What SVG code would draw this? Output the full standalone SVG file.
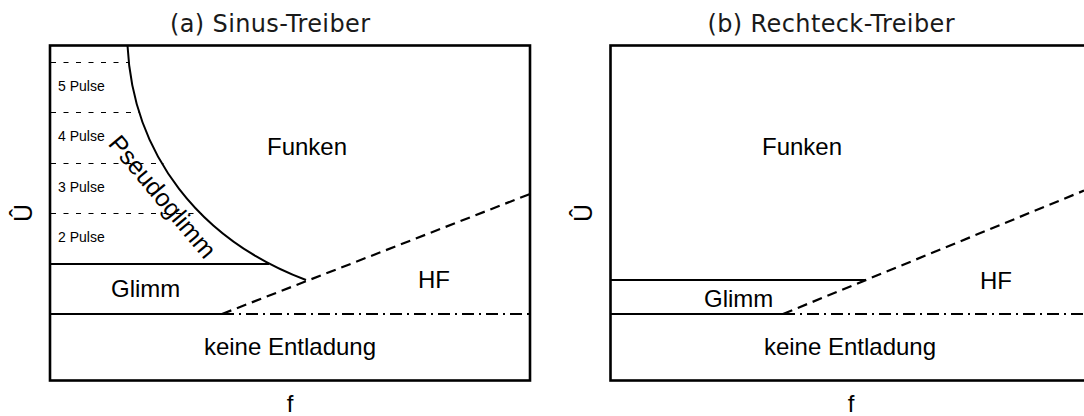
<svg xmlns="http://www.w3.org/2000/svg" width="1084" height="416" viewBox="0 0 1084 416">
<style>
.box{fill:none;stroke:#000;stroke-width:2.6}
.ln{fill:none;stroke:#000;stroke-width:2}
.dsh{fill:none;stroke:#000;stroke-width:2.2;stroke-dasharray:10 6}
.dd{fill:none;stroke:#000;stroke-width:2;stroke-dasharray:12 5 2 5}
.sd{fill:none;stroke:#000;stroke-width:1.2;stroke-dasharray:5 7.5}
.t{font-family:"Liberation Sans",Arial,sans-serif;font-size:24px;fill:#000}
.s{font-family:"Liberation Sans",Arial,sans-serif;font-size:14px;fill:#000}
.ti{font-family:"DejaVu Sans",sans-serif;font-size:24px;fill:#1a1a1a}
</style>
<rect width="1084" height="416" fill="#fff"/>
<g id="panel-a">
  <text class="ti" x="270" y="32" text-anchor="middle" textLength="200" lengthAdjust="spacing">(a) Sinus-Treiber</text>
  <rect class="box" x="50" y="45.5" width="480" height="335"/>
  <text class="t" transform="translate(32,213) rotate(-90)" text-anchor="middle" style="font-size:25px">Û</text>
  <text class="t" x="290" y="412" text-anchor="middle">f</text>
</g>
<g id="panel-b">
  <text class="ti" x="831" y="32" text-anchor="middle" textLength="247" lengthAdjust="spacing">(b) Rechteck-Treiber</text>
  <rect class="box" x="610.5" y="45.5" width="480" height="335"/>
  <text class="t" transform="translate(592,213) rotate(-90)" text-anchor="middle" style="font-size:25px">Û</text>
  <text class="t" x="851" y="412" text-anchor="middle">f</text>
</g>
<g id="connectors">
  <path class="ln" d="M127.5,45.5 C133,155 200,240 306,280"/>
  <line class="ln" x1="50" y1="264" x2="269" y2="264"/>
  <line class="ln" x1="50" y1="314" x2="222" y2="314"/>
  <line class="dd" x1="222" y1="314" x2="530" y2="314"/>
  <line class="dsh" x1="222" y1="314" x2="530" y2="194"/>
  <line class="sd" x1="51" y1="62.5" x2="128.5" y2="62.5"/>
  <line class="sd" x1="51" y1="112.5" x2="140" y2="112.5"/>
  <line class="sd" x1="51" y1="163.5" x2="164" y2="163.5"/>
  <line class="sd" x1="51" y1="213.5" x2="202" y2="213.5"/>
  <line class="ln" x1="610.5" y1="280" x2="866" y2="280"/>
  <line class="ln" x1="610.5" y1="314" x2="783" y2="314"/>
  <line class="dd" x1="783" y1="314" x2="1084" y2="314"/>
  <line class="dsh" x1="783" y1="314" x2="1084" y2="190.6"/>
</g>
<g id="a-pulse5"><text class="s" x="58" y="90.5">5 Pulse</text></g>
<g id="a-pulse4"><text class="s" x="58" y="140.5">4 Pulse</text></g>
<g id="a-pulse3"><text class="s" x="58" y="191.5">3 Pulse</text></g>
<g id="a-pulse2"><text class="s" x="58" y="241.5">2 Pulse</text></g>
<g id="a-pseudoglimm"><text class="t" transform="translate(162,197) rotate(50)" x="0" y="8" text-anchor="middle" style="font-size:25px">Pseudoglimm</text></g>
<g id="a-funken"><text class="t" x="267" y="155">Funken</text></g>
<g id="a-glimm"><text class="t" x="111" y="297">Glimm</text></g>
<g id="a-hf"><text class="t" x="418" y="288">HF</text></g>
<g id="a-keine"><text class="t" x="290" y="355" text-anchor="middle">keine Entladung</text></g>
<g id="b-funken"><text class="t" x="762" y="155">Funken</text></g>
<g id="b-glimm"><text class="t" x="704" y="307">Glimm</text></g>
<g id="b-hf"><text class="t" x="980" y="289">HF</text></g>
<g id="b-keine"><text class="t" x="850" y="355" text-anchor="middle">keine Entladung</text></g>
</svg>
